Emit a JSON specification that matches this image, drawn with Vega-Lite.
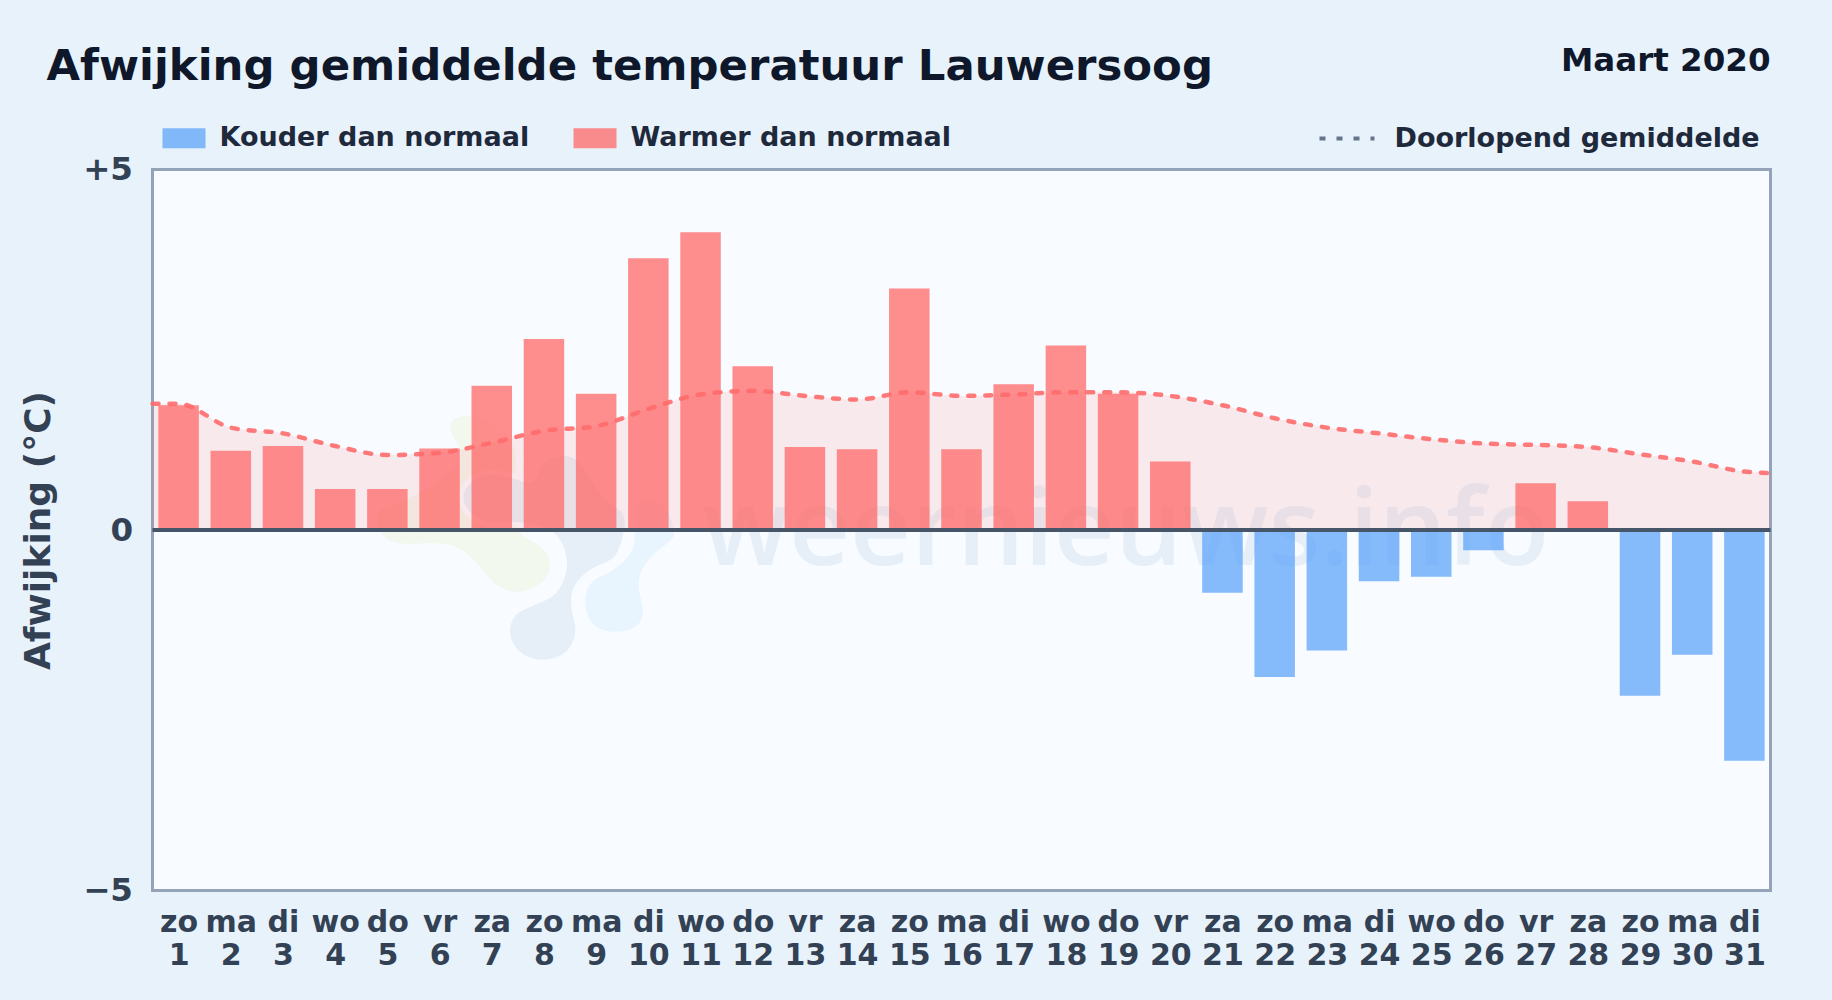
{
"$schema":"https://vega.github.io/schema/vega-lite/v6.json",
"width":1618,"height":721,
"autosize":{"type":"none"},
"padding":{"left":152.5,"top":169.5,"right":61.5,"bottom":109.5},
"background":"#e8f2fb",
"config":{"font":"DejaVu Sans","view":{"fill":"#f8fbff","stroke":"#94a3b8","strokeWidth":3}},
"title":{"text":"Afwijking gemiddelde temperatuur Lauwersoog","anchor":"start","frame":"group","dx":-106,"dy":48,"fontSize":43.4,"fontWeight":"bold","color":"#0f172a","font":"DejaVu Sans"},
"datasets":{
"dagen":[
{"dag":1,"afwijking":1.73,"soort":"Warmer dan normaal"},{"dag":2,"afwijking":1.10,"soort":"Warmer dan normaal"},{"dag":3,"afwijking":1.165,"soort":"Warmer dan normaal"},{"dag":4,"afwijking":0.57,"soort":"Warmer dan normaal"},{"dag":5,"afwijking":0.57,"soort":"Warmer dan normaal"},{"dag":6,"afwijking":1.13,"soort":"Warmer dan normaal"},{"dag":7,"afwijking":2.0,"soort":"Warmer dan normaal"},{"dag":8,"afwijking":2.65,"soort":"Warmer dan normaal"},{"dag":9,"afwijking":1.89,"soort":"Warmer dan normaal"},{"dag":10,"afwijking":3.77,"soort":"Warmer dan normaal"},{"dag":11,"afwijking":4.13,"soort":"Warmer dan normaal"},{"dag":12,"afwijking":2.27,"soort":"Warmer dan normaal"},{"dag":13,"afwijking":1.15,"soort":"Warmer dan normaal"},{"dag":14,"afwijking":1.12,"soort":"Warmer dan normaal"},{"dag":15,"afwijking":3.35,"soort":"Warmer dan normaal"},{"dag":16,"afwijking":1.12,"soort":"Warmer dan normaal"},{"dag":17,"afwijking":2.02,"soort":"Warmer dan normaal"},{"dag":18,"afwijking":2.56,"soort":"Warmer dan normaal"},{"dag":19,"afwijking":1.89,"soort":"Warmer dan normaal"},{"dag":20,"afwijking":0.95,"soort":"Warmer dan normaal"},{"dag":21,"afwijking":-0.87,"soort":"Kouder dan normaal"},{"dag":22,"afwijking":-2.04,"soort":"Kouder dan normaal"},{"dag":23,"afwijking":-1.67,"soort":"Kouder dan normaal"},{"dag":24,"afwijking":-0.71,"soort":"Kouder dan normaal"},{"dag":25,"afwijking":-0.65,"soort":"Kouder dan normaal"},{"dag":26,"afwijking":-0.28,"soort":"Kouder dan normaal"},{"dag":27,"afwijking":0.65,"soort":"Warmer dan normaal"},{"dag":28,"afwijking":0.40,"soort":"Warmer dan normaal"},{"dag":29,"afwijking":-2.30,"soort":"Kouder dan normaal"},{"dag":30,"afwijking":-1.73,"soort":"Kouder dan normaal"},{"dag":31,"afwijking":-3.2,"soort":"Kouder dan normaal"}
],
"gemiddelde":[
{"dag":0.5,"gem":1.75,"reeks":"Doorlopend gemiddelde"},{"dag":1,"gem":1.75,"reeks":"Doorlopend gemiddelde"},{"dag":2,"gem":1.42,"reeks":"Doorlopend gemiddelde"},{"dag":3,"gem":1.34,"reeks":"Doorlopend gemiddelde"},{"dag":4,"gem":1.165,"reeks":"Doorlopend gemiddelde"},{"dag":5,"gem":1.04,"reeks":"Doorlopend gemiddelde"},{"dag":6,"gem":1.07,"reeks":"Doorlopend gemiddelde"},{"dag":7,"gem":1.21,"reeks":"Doorlopend gemiddelde"},{"dag":8,"gem":1.375,"reeks":"Doorlopend gemiddelde"},{"dag":9,"gem":1.44,"reeks":"Doorlopend gemiddelde"},{"dag":10,"gem":1.68,"reeks":"Doorlopend gemiddelde"},{"dag":11,"gem":1.88,"reeks":"Doorlopend gemiddelde"},{"dag":12,"gem":1.93,"reeks":"Doorlopend gemiddelde"},{"dag":13,"gem":1.86,"reeks":"Doorlopend gemiddelde"},{"dag":14,"gem":1.81,"reeks":"Doorlopend gemiddelde"},{"dag":15,"gem":1.91,"reeks":"Doorlopend gemiddelde"},{"dag":16,"gem":1.86,"reeks":"Doorlopend gemiddelde"},{"dag":17,"gem":1.88,"reeks":"Doorlopend gemiddelde"},{"dag":18,"gem":1.91,"reeks":"Doorlopend gemiddelde"},{"dag":19,"gem":1.91,"reeks":"Doorlopend gemiddelde"},{"dag":20,"gem":1.86,"reeks":"Doorlopend gemiddelde"},{"dag":21,"gem":1.73,"reeks":"Doorlopend gemiddelde"},{"dag":22,"gem":1.55,"reeks":"Doorlopend gemiddelde"},{"dag":23,"gem":1.42,"reeks":"Doorlopend gemiddelde"},{"dag":24,"gem":1.34,"reeks":"Doorlopend gemiddelde"},{"dag":25,"gem":1.26,"reeks":"Doorlopend gemiddelde"},{"dag":26,"gem":1.20,"reeks":"Doorlopend gemiddelde"},{"dag":27,"gem":1.18,"reeks":"Doorlopend gemiddelde"},{"dag":28,"gem":1.15,"reeks":"Doorlopend gemiddelde"},{"dag":29,"gem":1.05,"reeks":"Doorlopend gemiddelde"},{"dag":30,"gem":0.95,"reeks":"Doorlopend gemiddelde"},{"dag":31,"gem":0.81,"reeks":"Doorlopend gemiddelde"},{"dag":31.5,"gem":0.79,"reeks":"Doorlopend gemiddelde"}
],
"logo":[{"dag":7.54,"waarde":0}],
"merk":[{"dag":19.15,"waarde":-0.486,"tekst":"weernieuws.info"}],
"periode":[{"dag":31.5,"waarde":6.5,"tekst":"Maart 2020"}],
"nul":[{"waarde":0}]
},
"encoding":{
"x":{"field":"dag","type":"quantitative","scale":{"domain":[0.5,31.5],"nice":false,"zero":false,"padding":0},
 "axis":{"title":null,"values":[1,2,3,4,5,6,7,8,9,10,11,12,13,14,15,16,17,18,19,20,21,22,23,24,25,26,27,28,29,30,31],
 "labelExpr":"[['zo','ma','di','wo','do','vr','za'][(datum.value-1)%7], ''+datum.value]",
 "grid":false,"domain":false,"ticks":false,"tickSize":0,"labelOverlap":false,"labelFlush":false,"labelBound":false,"labelFontSize":30,"labelFontWeight":"bold","labelColor":"#334155","labelPadding":17,"labelLineHeight":33,"labelBaseline":"top"}}
},
"layer":[
{"data":{"name":"logo"},"mark":{"type":"point","filled":true,"opacity":1,"size":0.5,"fill":"#f2f8ee","stroke":"#f8fbff","strokeWidth":5,"shape":"M-188 -250 Q-215 -290 -198 -312 Q-180 -335 -130 -328 Q-80 -320 -40 -280 Q0 -240 -5 -185 Q-10 -130 -10 -62 Q-10 5 30 22 Q70 40 85 70 Q100 100 85 130 Q70 160 30 175 Q-10 190 -45 175 Q-80 160 -105 125 Q-130 90 -165 65 Q-200 40 -280 45 Q-360 50 -382 30 Q-405 10 -412 -25 Q-420 -60 -375 -75 Q-330 -90 -280 -115 Q-230 -140 -195 -175 Q-160 -210 -188 -250 Z"},"encoding":{"y":{"field":"waarde","type":"quantitative"}}},
{"data":{"name":"logo"},"mark":{"type":"point","filled":true,"opacity":1,"size":0.5,"fill":"#e8f4fe","stroke":"#f8fbff","strokeWidth":5,"shape":"M317 32 Q315 60 288 85 Q260 110 225 125 Q190 140 181 175 Q172 210 186 245 Q200 280 235 290 Q270 300 305 290 Q340 280 350 255 Q360 230 348 190 Q335 150 352 115 Q370 80 405 55 Q440 30 442 18 Q445 5 432 -38 Q420 -80 370 -90 Q320 -100 320 -48 Q320 5 317 32 Z"},"encoding":{"y":{"field":"waarde","type":"quantitative"}}},
{"data":{"name":"logo"},"mark":{"type":"point","filled":true,"opacity":1,"size":0.5,"fill":"#e6eff8","stroke":"#f8fbff","strokeWidth":5,"shape":"M302 -5 Q295 40 282 65 Q270 90 235 102 Q200 115 178 138 Q155 160 152 190 Q150 220 160 255 Q170 290 155 322 Q140 355 102 368 Q65 380 28 368 Q-10 355 -26 322 Q-42 290 -31 260 Q-20 230 10 218 Q40 205 70 192 Q100 180 115 145 Q130 110 125 80 Q120 50 105 28 Q90 5 45 -8 Q0 -20 -40 -15 Q-80 -10 -115 -25 Q-150 -40 -162 -70 Q-175 -100 -152 -130 Q-130 -160 -90 -162 Q-50 -165 -5 -148 Q40 -130 45 -160 Q50 -190 80 -205 Q110 -220 140 -215 Q170 -210 205 -150 Q240 -90 275 -70 Q310 -50 302 -5 Z"},"encoding":{"y":{"field":"waarde","type":"quantitative"}}},
{"data":{"name":"merk"},"mark":{"type":"text","font":"Open Sans","fontSize":106,"fontWeight":600,"color":"#e6eff8","align":"center","baseline":"alphabetic"},"encoding":{"y":{"field":"waarde","type":"quantitative"},"text":{"field":"tekst"}}},
{"data":{"name":"gemiddelde"},"mark":{"type":"area","interpolate":"monotone","color":"#ff6b6b","opacity":0.12},"encoding":{"y":{"field":"gem","type":"quantitative"}}},
{"data":{"name":"dagen"},"mark":{"type":"bar","width":40.5,"opacity":0.76},"encoding":{
 "y":{"field":"afwijking","type":"quantitative","scale":{"domain":[-5,5],"nice":false},
  "axis":{"title":"Afwijking (°C)","values":[-5,0,5],"labelExpr":"datum.value>0?'+'+datum.value:datum.value<0?'−'+abs(datum.value):'0'","grid":false,"domain":false,"ticks":false,"tickSize":0,"labelFontSize":32.5,"labelFontWeight":"bold","labelColor":"#334155","labelPadding":20,"titleFontSize":36,"titleFontWeight":"bold","titleColor":"#334155","titlePadding":25}},
 "color":{"field":"soort","type":"nominal","scale":{"domain":["Kouder dan normaal","Warmer dan normaal"],"range":["#60a5fa","#ff6b6b"]},
  "legend":{"title":null,"orient":"none","direction":"horizontal","legendX":10,"legendY":-53,"symbolType":"M-1 -0.46H1V0.46H-1Z","symbolSize":1849,"symbolStrokeWidth":0,"labelFontSize":27,"labelFontWeight":"bold","labelColor":"#1e293b","labelOffset":14,"labelLimit":600,"columnPadding":44}}}},
{"data":{"name":"nul"},"mark":{"type":"rule","stroke":"#475569","strokeWidth":4},"encoding":{"x":null,"y":{"field":"waarde","type":"quantitative"}}},
{"data":{"name":"gemiddelde"},"mark":{"type":"line","interpolate":"monotone","color":"#ff6b6b","strokeWidth":4.5,"strokeCap":"round","opacity":0.9},"encoding":{
 "y":{"field":"gem","type":"quantitative"},
 "strokeDash":{"field":"reeks","type":"nominal","scale":{"domain":["Doorlopend gemiddelde"],"range":[[6,11]]},
  "legend":{"title":null,"orient":"none","legendX":1165,"legendY":-60.5,"symbolType":"stroke","symbolSize":3025,"labelFontSize":27,"labelFontWeight":"bold","labelColor":"#1e293b","labelOffset":18,"labelLimit":600,
   "symbolStrokeColor":"#64748b","symbolStrokeWidth":4,"symbolDash":[5,12],"symbolOpacity":1}}}},
{"data":{"name":"periode"},"mark":{"type":"text","fontSize":32.5,"fontWeight":"bold","color":"#0f172a","align":"right","baseline":"middle"},"encoding":{"y":{"field":"waarde","type":"quantitative"},"text":{"field":"tekst"}}}
]
}
